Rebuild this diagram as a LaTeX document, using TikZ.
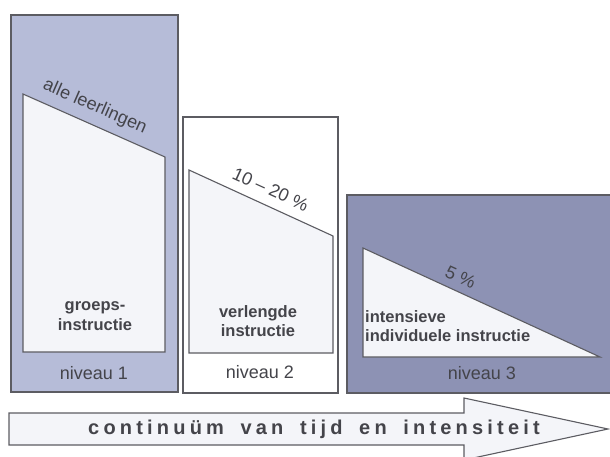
\documentclass[tikz,border=0pt]{standalone}
\usepackage{fontspec}
\setmainfont{Liberation Sans}
\newfontfamily\spacedfont{Liberation Sans}[LetterSpace=21,WordSpace=1.7]
\usetikzlibrary{positioning}

\definecolor{lila}{RGB}{182,188,216}
\definecolor{lilaDark}{RGB}{141,146,180}
\definecolor{paper}{RGB}{244,245,249}
\definecolor{ink}{RGB}{68,68,74}
\definecolor{rim}{RGB}{92,92,98}

\begin{document}
\begin{tikzpicture}[x=1pt,y=-1pt,
        box/.style={draw=rim, line width=1.1pt, line join=miter},
        lbl/.style={text=ink, inner sep=1pt, font=\fontsize{18}{20}\selectfont},
        instr/.style={text=ink, inner sep=0pt, font=\bfseries\fontsize{16.5}{19.5}\selectfont}]

        \useasboundingbox (0,0) rectangle (610,457);
        \clip (0,0) rectangle (610,457);

        % niveau boxes
        \draw[box, fill=lila] (11,15) rectangle (178,392);
        \draw[box, fill=white] (183,117) rectangle (338,393);
        \fill[lilaDark] (347,195) rectangle (612,393);
        \draw[box] (612,195) -- (347,195) -- (347,393) -- (612,393);

        % inner shapes
        \draw[box, fill=paper] (23,94) -- (165,157) -- (165,352) -- (23,352) -- cycle;
        \draw[box, fill=paper] (189,170) -- (333,236) -- (333,353) -- (189,353) -- cycle;
        \draw[box, fill=paper] (363,248) -- (600,357) -- (363,357) -- cycle;

        % share of pupils
        \node[lbl, rotate=-23.5, anchor=base] (share1) at (93,111) {alle leerlingen};
        \node[lbl, rotate=-24.5, anchor=base] (share2) at (268,195) {10 -- 20 \%};
        \node[lbl, rotate=-24.5, anchor=base] (share3) at (458,283) {5 \%};

        % instruction
        \node[instr, align=center] (instr1) at (95,316) {groeps-\\instructie};
        \node[instr, align=center] (instr2) at (258,321) {verlengde\\instructie};
        \node[instr, align=left, anchor=west] (instr3) at (365,326) {intensieve\\individuele instructie};

        % levels
        \node[lbl] (level1) at (94,373) {niveau 1};
        \node[lbl] (level2) at (260,372) {niveau 2};
        \node[lbl] (level3) at (482,373) {niveau 3};

        % continuum arrow
        \draw[box, fill=paper] (9,413) -- (464,413) -- (464,398) -- (608,429)
            -- (464,460) -- (464,445) -- (9,445) -- cycle;
        \node[text=ink, font=\spacedfont\bfseries\fontsize{20}{22}\selectfont]
            (scale) at (314,429) {continuüm van tijd en intensiteit};

    \end{tikzpicture}
\end{document}
